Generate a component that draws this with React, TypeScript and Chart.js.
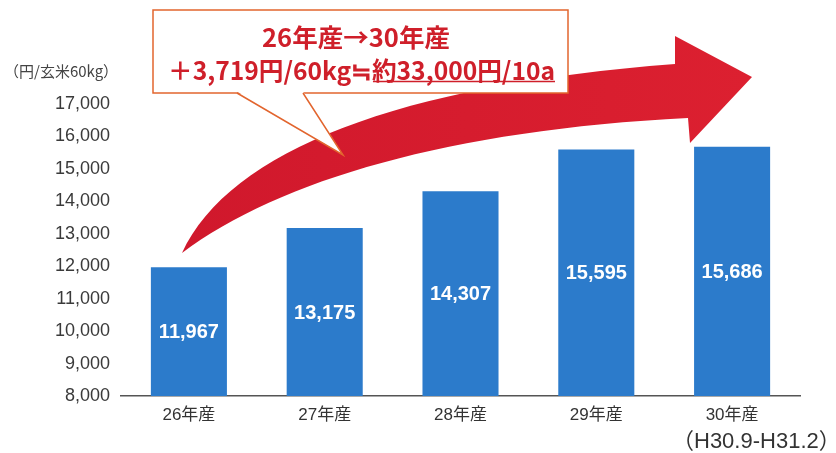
import React, { useEffect, useRef } from "react";
import { Chart, registerables } from "chart.js";

Chart.register(...registerables);

// ---- data ----
const categories = ["26年産", "27年産", "28年産", "29年産", "30年産"];
const prices = [11967, 13175, 14307, 15595, 15686];
const yMin = 8000;
const yMax = 17000;
const yStep = 1000;
const unitLabel = "（円/玄米60kg）";
const footnote = "（H30.9-H31.2）";
const calloutLine1 = "26年産→30年産";
const calloutLine2a = "＋3,719円/60kg≒";
const calloutLine2b = "約33,000円/10a";

// ---- styles ----
const FONT = '"Liberation Sans", "Noto Sans CJK JP", Arial, sans-serif';
const CJK = '"Noto Sans CJK JP", "Liberation Sans", sans-serif';
const BAR = "#2c7bcb";
const TEXT_RED = "#cf1f2a";
const BOX_BORDER = "#e2652e";
const fmt = (v: number) => v.toLocaleString("en-US");

const valueLabels = {
  id: "valueLabels",
  afterDatasetsDraw(chart: any) {
    const ctx = chart.ctx;
    const meta = chart.getDatasetMeta(0);
    const bottom = chart.chartArea.bottom;
    ctx.save();
    ctx.fillStyle = "#ffffff";
    ctx.font = `bold 20px ${FONT}`;
    ctx.textAlign = "center";
    ctx.textBaseline = "middle";
    meta.data.forEach((bar: any, i: number) => {
      const base = Math.min(bar.base, bottom);
      ctx.fillText(fmt(prices[i]), bar.x, (bar.y + base) / 2 + 1);
    });
    ctx.restore();
  },
};

function fitText(ctx: CanvasRenderingContext2D, text: string, x: number, y: number, targetW: number) {
  const w = ctx.measureText(text).width;
  const s = targetW / w;
  ctx.save();
  ctx.translate(x, y);
  ctx.scale(s, 1);
  ctx.fillText(text, 0, 0);
  ctx.restore();
  return s;
}

const decorations = {
  id: "decorations",
  afterDraw(chart: any) {
    const ctx: CanvasRenderingContext2D = chart.ctx;
    const ca = chart.chartArea;
    const L = ca.left; // 121
    const T = ca.top; // 104
    const p = (dx: number, dy: number): [number, number] => [L + dx, T + dy];

    // ---- curved arrow ----
    ctx.save();
    const grad = ctx.createLinearGradient(L + 60, 0, L + 630, 0);
    grad.addColorStop(0, "#d0182c");
    grad.addColorStop(1, "#dc2030");
    ctx.fillStyle = grad;
    ctx.beginPath();
    const tail = p(61, 149);
    ctx.moveTo(...tail);
    ctx.bezierCurveTo(...p(109, 46), ...p(279, -19), ...p(554, -40));
    ctx.lineTo(...p(554, -68));
    ctx.lineTo(...p(631, -27));
    ctx.lineTo(...p(569, 39));
    ctx.lineTo(...p(567, 14));
    ctx.bezierCurveTo(...p(329, 26), ...p(159, 76), ...tail);
    ctx.closePath();
    ctx.fill();
    ctx.restore();

    // ---- callout box ----
    const bx0 = L + 32, by0 = T - 94, bx1 = L + 447, by1 = T - 11;
    ctx.save();
    ctx.fillStyle = "#ffffff";
    ctx.strokeStyle = BOX_BORDER;
    ctx.lineWidth = 1.5;
    ctx.fillRect(bx0, by0, bx1 - bx0, by1 - by0);
    ctx.strokeRect(bx0, by0, bx1 - bx0, by1 - by0);
    // tail
    const t1 = p(116, -11), t2 = p(182, -11), tip = p(222, 51);
    ctx.beginPath();
    ctx.moveTo(t1[0], t1[1] - 1.5);
    ctx.lineTo(...tip);
    ctx.lineTo(t2[0], t2[1] - 1.5);
    ctx.closePath();
    ctx.fill();
    ctx.beginPath();
    ctx.moveTo(...t1);
    ctx.lineTo(...tip);
    ctx.lineTo(...t2);
    ctx.stroke();

    // text
    ctx.fillStyle = TEXT_RED;
    ctx.font = `bold 25px ${CJK}`;
    ctx.textAlign = "center";
    ctx.textBaseline = "middle";
    fitText(ctx, calloutLine1, L + 235, T - 67, 188);
    ctx.textAlign = "left";
    const full = calloutLine2a + calloutLine2b;
    const x2 = L + 47;
    const s = fitText(ctx, full, x2, T - 34, 387);
    const wa = ctx.measureText(calloutLine2a).width * s;
    ctx.strokeStyle = TEXT_RED;
    ctx.lineWidth = 1.5;
    ctx.beginPath();
    ctx.moveTo(x2 + wa + 1, T - 22.5);
    ctx.lineTo(x2 + 387, T - 22.5);
    ctx.stroke();
    ctx.restore();

    // ---- unit label ----
    ctx.save();
    ctx.fillStyle = "#444444";
    ctx.font = `15px ${CJK}`;
    ctx.textAlign = "left";
    ctx.textBaseline = "middle";
    ctx.fillText(unitLabel, 4, T - 33);
    // ---- footnote ----
    ctx.font = `22px ${FONT}`;
    ctx.fillStyle = "#333333";
    ctx.textAlign = "left";
    ctx.fillText(footnote, 672, ca.bottom + 46);
    ctx.restore();
  },
};

export default function App() {
  const ref = useRef<HTMLCanvasElement>(null);
  useEffect(() => {
    const canvas = ref.current!;
    const chart = new Chart(canvas, {
      type: "bar",
      data: {
        labels: categories,
        datasets: [
          {
            data: prices,
            backgroundColor: BAR,
            borderWidth: 0,
            categoryPercentage: 1,
            barPercentage: 0.56,
          },
        ],
      },
      options: {
        animation: false,
        responsive: false,
        devicePixelRatio: 1,
        layout: { padding: { top: 104, right: 36, bottom: 0, left: 0 } },
        plugins: { legend: { display: false }, tooltip: { enabled: false } },
        scales: {
          x: {
            grid: { display: false, drawTicks: false },
            border: { display: true, color: "#555555", width: 1.5 },
            ticks: { color: "#333333", font: { family: FONT, size: 17 }, padding: 9, maxRotation: 0 },
            afterFit: (s: any) => {
              s.height = 57;
            },
          },
          y: {
            min: yMin,
            max: yMax,
            ticks: {
              stepSize: yStep,
              color: "#3a3a3a",
              font: { family: FONT, size: 18 },
              padding: 11,
              callback: (v: any) => fmt(Number(v)),
            },
            grid: { display: false, drawTicks: false },
            border: { display: false },
            afterFit: (s: any) => {
              s.width = 121;
            },
          },
        },
      },
      plugins: [valueLabels, decorations],
    } as any);
    return () => chart.destroy();
  }, []);
  return (
    <div style={{ position: "absolute", left: 0, top: 0, width: 836, height: 453, background: "#ffffff" }}>
      <canvas ref={ref} width={836} height={453} style={{ display: "block" }} />
    </div>
  );
}
